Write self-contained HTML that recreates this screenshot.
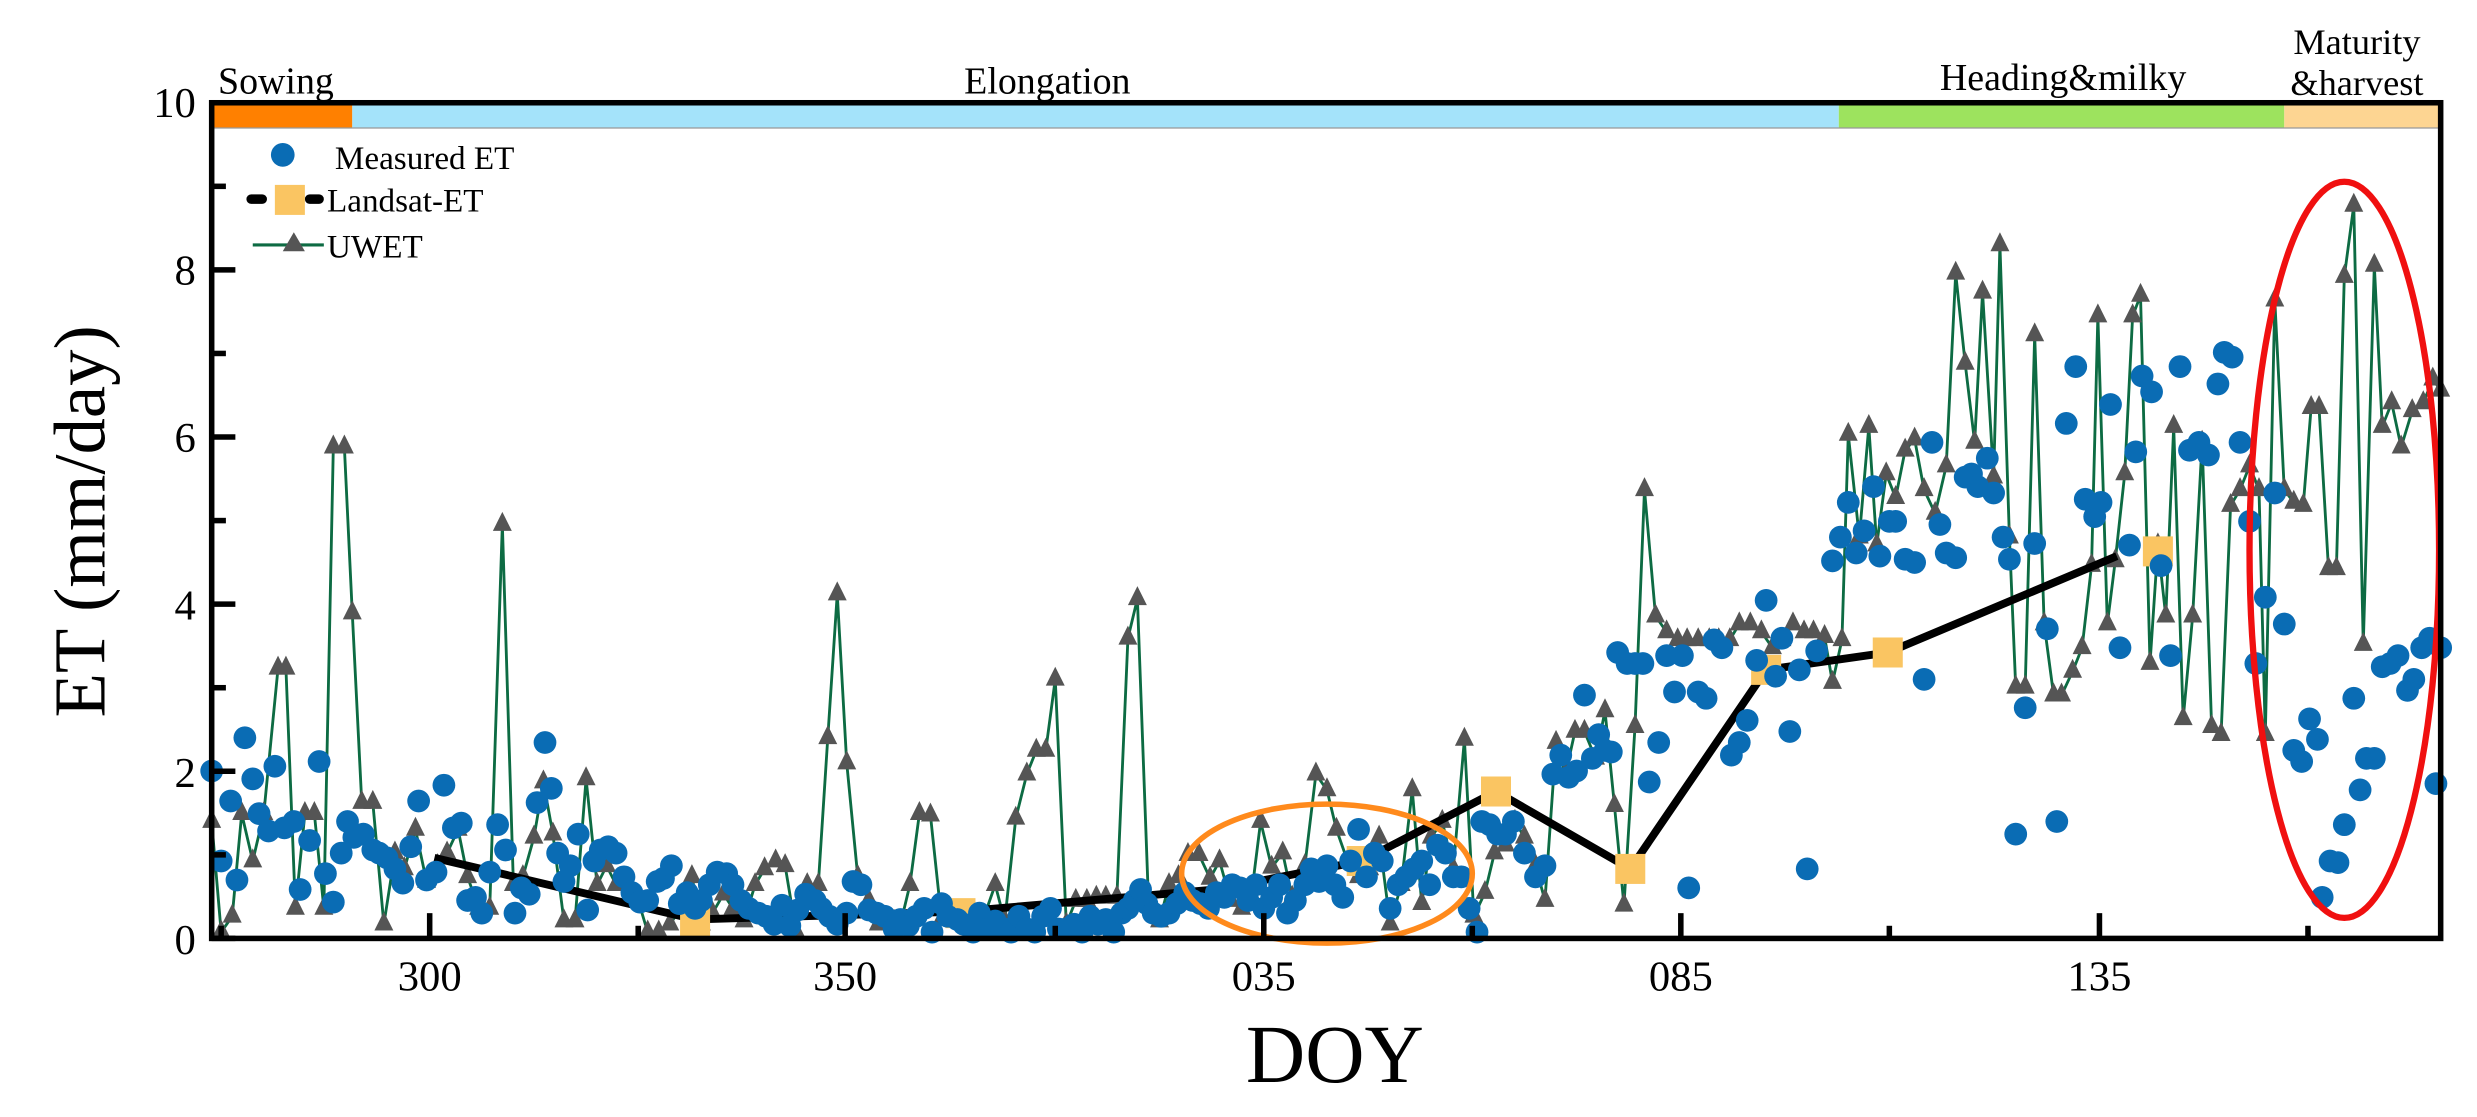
<!DOCTYPE html>
<html><head><meta charset="utf-8"><style>html,body{margin:0;padding:0;background:#fff}svg{display:block}</style></head>
<body>
<svg id="s" width="2477" height="1117" viewBox="0 0 1568 707" xmlns="http://www.w3.org/2000/svg" font-family="Liberation Serif, serif">
<rect width="1568" height="707" fill="#fff"/>
<rect x="135" y="66" width="88" height="15" fill="#ff8000"/>
<rect x="223" y="66" width="941" height="15" fill="#a4e3fa"/>
<rect x="1164" y="66" width="282" height="15" fill="#9de35e"/>
<rect x="1446" y="66" width="99" height="15" fill="#fdd592"/>
<line x1="134" y1="81" x2="1545" y2="81" stroke="#999" stroke-width="0.8"/>
<text x="138" y="59" font-size="24">Sowing</text>
<text x="663" y="59" font-size="24" text-anchor="middle">Elongation</text>
<text x="1306" y="57" font-size="24" text-anchor="middle">Heading&amp;milky</text>
<text x="1492" y="34" font-size="23" text-anchor="middle">Maturity</text>
<text x="1492" y="60" font-size="23" text-anchor="middle">&amp;harvest</text>
<g id="uw"></g><g id="ls"></g><g id="me"></g>
<ellipse cx="840" cy="553" rx="92" ry="44" fill="none" stroke="#ff8a1c" stroke-width="3.5"/>
<ellipse cx="1484" cy="348" rx="60" ry="233" fill="none" stroke="#f01010" stroke-width="4"/>
<rect x="134" y="65" width="1411" height="529" fill="none" stroke="#000" stroke-width="3.5"/>
<g stroke="#000" stroke-width="3.5" id="ticks"></g>
<g font-size="27" text-anchor="end">
<text x="124" y="74">10</text><text x="124" y="180">8</text><text x="124" y="286">6</text><text x="124" y="392">4</text><text x="124" y="498">2</text><text x="124" y="604">0</text>
</g>
<g font-size="27" text-anchor="middle">
<text x="272" y="627">300</text><text x="535" y="627">350</text><text x="800" y="627">035</text><text x="1064" y="627">085</text><text x="1329" y="627">135</text>
</g>
<text x="845" y="685" font-size="52" text-anchor="middle">DOY</text>
<text transform="translate(66,330) rotate(-90)" font-size="46" text-anchor="middle">ET (mm/day)</text>
<circle cx="179" cy="98" r="7.5" fill="#0a6cb4"/>
<text x="212" y="107" font-size="21">Measured ET</text>
<line x1="159" y1="126" x2="166" y2="126" stroke="#000" stroke-width="6" stroke-linecap="round"/>
<line x1="196" y1="126" x2="202" y2="126" stroke="#000" stroke-width="6" stroke-linecap="round"/>
<rect x="174" y="117" width="19" height="19" fill="#fac562"/>
<text x="207" y="134" font-size="21">Landsat-ET</text>
<line x1="160" y1="155" x2="205" y2="155" stroke="#0d6b43" stroke-width="2"/>
<polygon points="186,147 179,159 193,159" fill="#555"/>
<text x="207" y="163" font-size="21">UWET</text>
</svg>
<script>
const NS="http://www.w3.org/2000/svg";
function el(t,a,p){const e=document.createElementNS(NS,t);for(const k in a)e.setAttribute(k,a[k]);document.getElementById(p).appendChild(e);return e;}
const uw=[134,520,140,590,147,580,153,515,160,545,167,515,176,423,181,423,187,575,193,515,199,515,205,575,211,283,218,283,223,388,229,508,236,508,243,585,250,540,256,550,263,525,270,558,277,548,283,540,290,525,296,555,303,575,310,575,318,332,325,560,331,555,338,530,344,495,350,528,357,583,364,583,371,493,378,560,384,548,390,560,397,558,404,570,410,590,417,590,424,585,431,575,438,555,444,585,451,578,458,566,464,575,471,583,478,560,484,550,491,545,497,548,504,590,511,560,518,560,524,467,530,376,536,483,543,555,550,570,556,585,563,583,570,585,576,560,582,515,589,516,596,582,602,580,609,580,616,583,623,580,630,560,636,583,643,518,650,490,656,475,662,475,668,430,675,585,681,570,688,570,694,568,700,568,707,568,714,404,720,379,727,570,734,583,740,560,746,555,752,541,759,541,766,556,772,545,779,570,786,575,792,568,798,520,805,549,812,540,818,568,826,548,833,490,840,500,846,525,853,545,860,555,867,550,873,530,880,585,887,560,894,500,900,572,906,530,913,520,920,550,927,468,933,580,940,565,946,540,953,535,959,520,965,530,972,548,978,570,985,470,991,490,997,463,1003,463,1010,480,1016,450,1022,510,1028,573,1035,460,1041,310,1048,390,1055,400,1062,405,1068,405,1075,405,1082,405,1088,405,1095,405,1101,395,1108,395,1115,400,1122,410,1128,405,1135,395,1142,400,1148,400,1155,403,1160,432,1166,405,1170,275,1177,340,1183,270,1188,345,1194,300,1200,315,1206,285,1212,278,1218,310,1225,325,1232,295,1238,173,1244,230,1250,280,1255,185,1262,302,1266,155,1272,340,1276,435,1282,435,1288,212,1294,395,1300,440,1305,440,1312,425,1318,410,1324,358,1328,200,1334,395,1339,355,1345,300,1350,200,1355,187,1361,420,1366,345,1371,390,1376,270,1382,455,1388,390,1394,280,1400,460,1406,465,1412,320,1418,310,1424,295,1430,310,1434,465,1440,190,1446,310,1452,318,1458,320,1463,258,1468,258,1474,360,1479,360,1484,175,1490,130,1496,408,1503,168,1508,270,1514,255,1520,283,1527,260,1534,255,1540,240,1545,247];
let pts=[];for(let i=0;i<uw.length;i+=2)pts.push(uw[i]+","+uw[i+1]);
el("polyline",{points:pts.join(" "),fill:"none",stroke:"#0d6b43","stroke-width":1.8},"uw");
for(let i=0;i<uw.length;i+=2){const x=uw[i],y=uw[i+1];el("polygon",{points:`${x},${y-8} ${x-6},${y+4} ${x+6},${y+4}`,fill:"#555"},"uw");}
el("polyline",{points:"275,543 440,582 608,577 770,563 862,545 947,501 1032,550 1118,424 1195,413 1340,352",fill:"none",stroke:"#000","stroke-width":5},"ls");
[[440,583],[608,578],[862,545],[947,501],[1032,550],[1118,424],[1195,413],[1366,349]].forEach(p=>el("rect",{x:p[0]-9.5,y:p[1]-9.5,width:19,height:19,fill:"#fac562"},"ls"));
const me=[134,488,140,545,146,507,150,557,155,467,160,493,164,515,170,526,174,485,180,524,186,520,190,563,196,532,202,482,206,553,211,571,216,540,220,520,224,530,230,528,236,538,240,540,245,543,250,550,255,559,260,536,265,507,270,557,276,552,281,497,287,524,292,521,296,570,301,568,305,578,310,552,315,522,320,538,326,578,330,562,335,566,340,508,345,470,349,499,353,540,357,558,361,548,366,528,372,576,376,545,380,538,385,536,390,540,395,555,400,565,405,571,410,570,416,558,420,556,425,548,430,572,435,565,440,575,444,570,449,560,454,552,460,553,464,560,469,570,474,575,480,578,485,580,490,585,495,573,500,586,505,576,510,566,516,570,520,575,525,580,530,585,536,578,540,558,545,560,550,576,555,578,560,580,566,588,570,582,575,586,580,580,585,575,590,590,596,572,600,580,606,582,610,585,616,590,620,578,625,588,630,583,636,588,640,590,645,580,650,588,655,590,660,580,665,575,670,588,675,588,680,585,685,590,690,580,695,585,700,582,705,590,710,578,714,575,718,570,722,563,726,572,730,578,735,580,740,578,745,572,750,565,755,570,760,572,765,575,770,565,775,568,780,560,785,562,790,570,795,560,800,575,805,568,810,560,815,578,820,570,826,560,830,550,835,558,840,548,845,560,850,568,855,545,860,525,865,555,870,540,875,545,880,575,885,560,890,555,895,550,900,545,905,560,910,535,915,540,920,555,925,555,930,575,935,590,938,520,943,522,948,528,953,528,958,520,965,540,972,555,978,548,983,490,988,478,993,492,998,488,1003,440,1008,480,1012,465,1016,475,1020,476,1024,413,1030,420,1035,420,1040,420,1044,495,1050,470,1055,415,1060,438,1065,415,1069,562,1075,438,1080,442,1085,405,1090,410,1096,478,1101,470,1106,456,1112,418,1118,380,1124,428,1128,404,1133,463,1139,424,1144,550,1150,412,1160,355,1165,340,1170,318,1175,350,1180,336,1186,308,1190,352,1196,330,1200,330,1206,354,1212,356,1218,430,1223,280,1228,332,1232,350,1238,353,1244,302,1248,300,1252,308,1258,290,1262,312,1268,340,1272,354,1276,528,1282,448,1288,344,1296,398,1302,520,1308,268,1314,232,1320,316,1326,327,1330,318,1336,256,1342,410,1348,345,1352,286,1356,238,1362,248,1368,358,1374,415,1380,232,1386,285,1392,280,1398,288,1404,243,1408,223,1413,226,1418,280,1424,330,1428,420,1434,378,1440,312,1446,395,1452,475,1457,482,1462,455,1467,468,1470,568,1475,545,1480,546,1484,522,1490,442,1494,500,1498,480,1503,480,1508,422,1513,420,1518,415,1524,437,1528,430,1533,410,1538,404,1542,496,1545,410];
for(let i=0;i<me.length;i+=2)el("circle",{cx:me[i],cy:me[i+1],r:7.2,fill:"#0a6cb4"},"me");
for(let v=0;v<=10;v++){const y=594-v*52.9;el("line",{x1:134,y1:y,x2:134+(v%2==0?15:9),y2:y},"ticks");}
[272,535,800,1064,1329].forEach(x=>el("line",{x1:x,y1:594,x2:x,y2:578},"ticks"));
[140,404,668,932,1196,1461].forEach(x=>el("line",{x1:x,y1:594,x2:x,y2:586},"ticks"));
</script>
</body></html>
